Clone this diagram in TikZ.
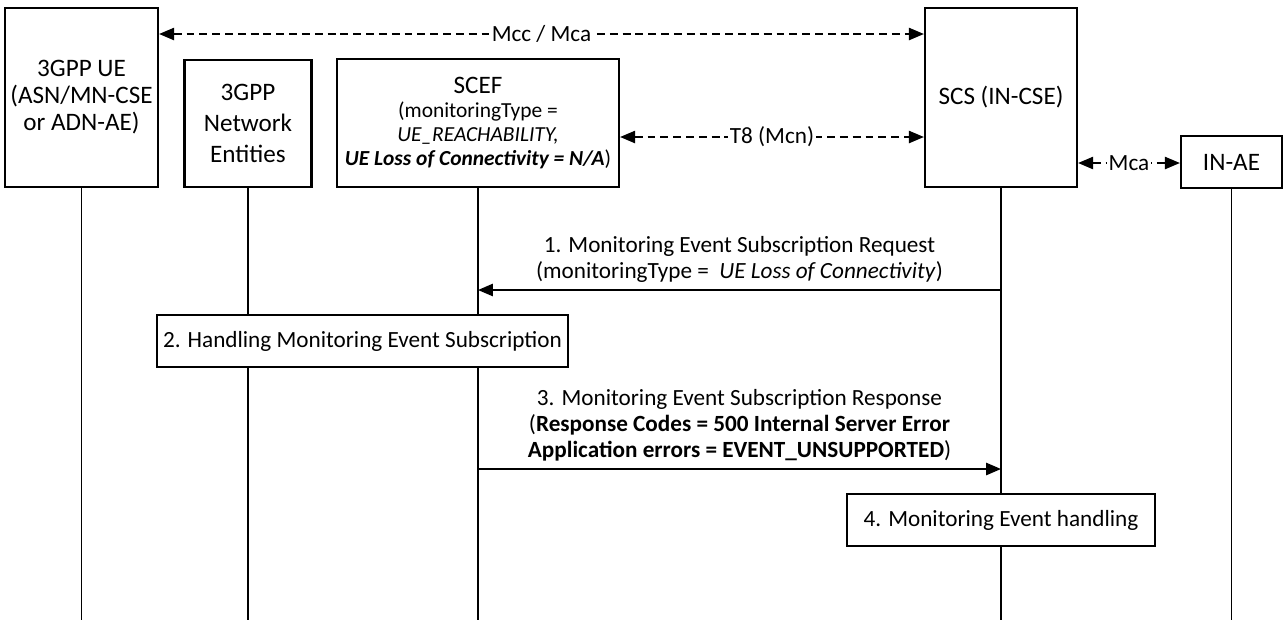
\documentclass[tikz,border=0pt]{standalone}
\usepackage{fontspec}
\setmainfont{Carlito}
\usetikzlibrary{positioning,arrows.meta}
\newcommand{\dfont}{\fontsize{13.2}{14.8}\selectfont}
\newcommand{\efont}{\fontsize{14.3}{15.4}\selectfont}

\begin{document}
\begin{tikzpicture}[x=0.02cm, y=-0.02cm,
  box/.style={draw, line width=1.3pt, align=center, fill=white, inner sep=2pt, font=\efont},
  proc/.style={draw, line width=0.9pt, fill=white, align=center, font=\dfont, minimum height=1.04cm},
  life/.style={line width=0.6pt},
  msg/.style={line width=1pt, -{Triangle[length=8.5pt,width=7pt]}},
  ref/.style={line width=0.8pt, dash pattern=on 4.5pt off 2.8pt,
    {Triangle[length=8.5pt,width=7pt]}-{Triangle[length=8.5pt,width=7pt]}},
  lbl/.style={font=\dfont, align=center, inner sep=1pt}
]
  \useasboundingbox (0,0) rectangle (1285,620);

  % entities
  \node[box, minimum width=3.06cm, minimum height=3.58cm] (ue) at (81.5,97.5)
    {3GPP UE\\(ASN/MN-CSE\\or ADN-AE)};
  \node[box, minimum width=2.54cm, minimum height=2.54cm, font=\fontsize{14.3}{17.5}\selectfont] (ne) at (248,123.5)
    {3GPP\\Network\\Entities};
  \node[box, minimum width=5.64cm, minimum height=2.56cm, font=\fontsize{12.2}{13.6}\selectfont] (scef) at (478,123)
    {{\fontsize{14.3}{15}\selectfont SCEF}\\(monitoringType =\\\textit{UE\_REACHABILITY,}\\\textbf{\textit{UE Loss of Connectivity = N/A}})};
  \node[box, minimum width=3.04cm, minimum height=3.58cm] (scs) at (1001,97.5) {SCS (IN-CSE)};
  \node[box, minimum width=2.02cm, minimum height=1.04cm] (inae) at (1231.5,162) {IN-AE};

  % reference points
  \draw[ref] (ue.east |- 0,34) -- node[lbl, fill=white] {Mcc / Mca} (scs.west |- 0,34);
  \draw[ref] (scef.east |- 0,137) -- node[lbl, fill=white] {T8 (Mcn)} (scs.west |- 0,137);
  \draw[ref] (scs.east |- 0,163) -- node[lbl, fill=white] {Mca} (inae.west |- 0,163);

  % lifelines
  \coordinate (ue-bot) at (ue.south |- 0,620);
  \coordinate (ne-bot) at (ne.south |- 0,620);
  \coordinate (scef-bot) at (scef.south |- 0,620);
  \coordinate (scs-bot) at (scs.south |- 0,620);
  \coordinate (inae-bot) at (inae.south |- 0,620);
  \foreach \e in {ue,ne,scef,scs,inae}
    \draw[life] (\e.south) -- (\e-bot);

  % messages
  \coordinate (m1s) at (scs.south |- 0,290);
  \coordinate (m1e) at (scef.south |- 0,290);
  \draw[msg] (m1s) -- node[lbl, above=3pt]
    {1. Monitoring Event Subscription Request\\(monitoringType = \ \textit{UE Loss of Connectivity})} (m1e);

  \node[proc, minimum width=8.18cm] (handle) at (362.5,341) {2. Handling Monitoring Event Subscription};

  \coordinate (m3s) at (scef.south |- 0,469);
  \coordinate (m3e) at (scs.south |- 0,469);
  \draw[msg] (m3s) -- node[lbl, above=3pt]
    {3. Monitoring Event Subscription Response\\(\textbf{Response Codes = 500 Internal Server Error}\\\textbf{Application errors = EVENT\_UNSUPPORTED})} (m3e);

  \node[proc, minimum width=6.16cm] (evt) at (1001,520) {4. Monitoring Event handling};
\end{tikzpicture}
\end{document}
